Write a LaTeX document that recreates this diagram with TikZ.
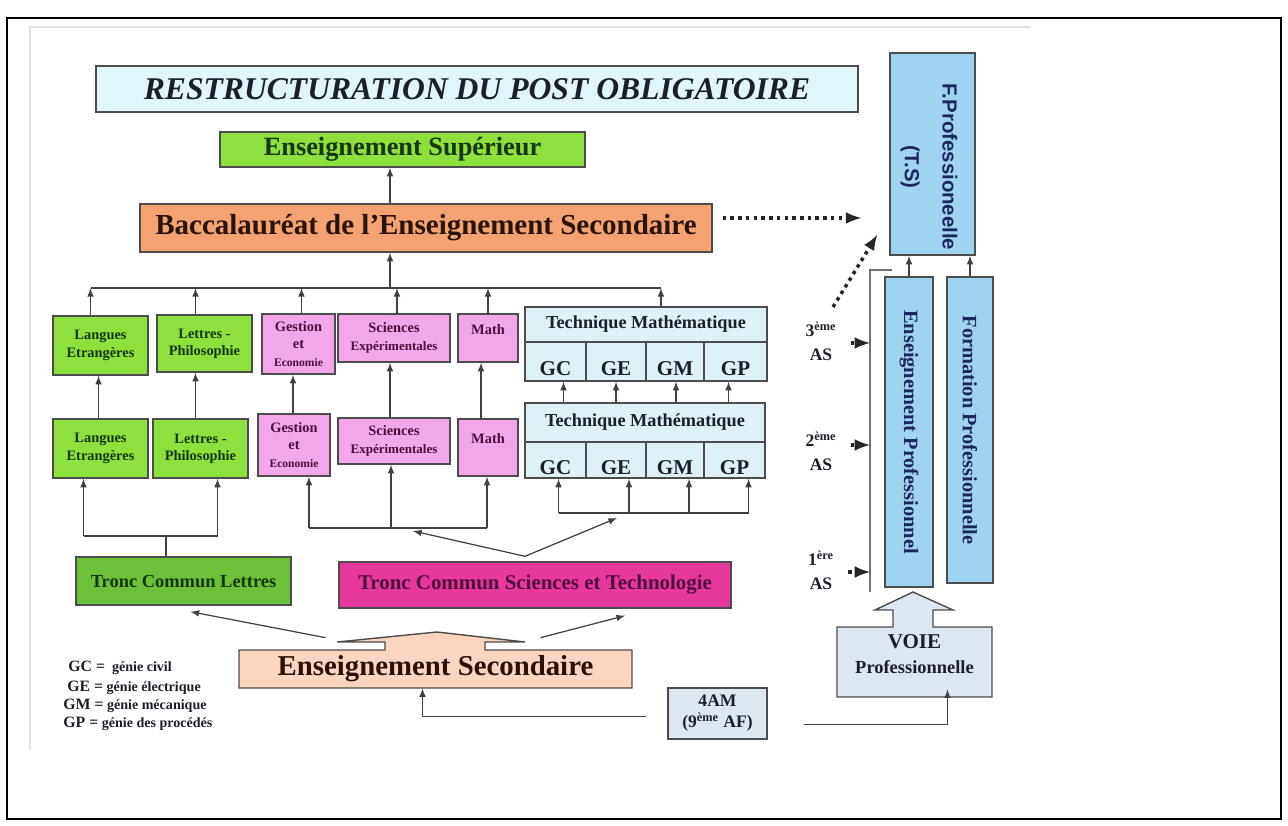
\documentclass[tikz,border=0pt]{standalone}
\usepackage{fontspec}
\setmainfont{Liberation Serif}
\newfontfamily\arialfont{Liberation Sans}
\usepackage{xcolor}
\usetikzlibrary{arrows,positioning,calc}

\definecolor{cyantitre}{HTML}{E0F6FA}
\definecolor{cyantech}{HTML}{DDF1F7}
\definecolor{vert}{HTML}{8EE03C}
\definecolor{vertfonce}{HTML}{6BC13A}
\definecolor{orangebac}{HTML}{F4A272}
\definecolor{rose}{HTML}{F2A7E8}
\definecolor{magentatc}{HTML}{E6399B}
\definecolor{peche}{HTML}{FBD5C0}
\definecolor{gris}{HTML}{DCE7F1}
\definecolor{bleu}{HTML}{9FD4F1}
\definecolor{encre}{HTML}{1C1E2A}
\definecolor{encrevert}{HTML}{17350F}
\definecolor{encrebrun}{HTML}{2B1206}
\definecolor{encreviolet}{HTML}{4E0E3A}
\definecolor{encrebleu}{HTML}{1B2660}

\newcommand{\fs}[1]{\fontsize{#1}{\fpeval{1.2*#1}}\selectfont}
\newcommand{\cel}[1]{\raisebox{-4pt}[\height][0pt]{#1}}

\tikzset{taille/.style 2 args={minimum width=#1*0.02cm, minimum height=#2*0.02cm}}
\tikzstyle{boite}=[draw=black!70, line width=0.8pt, inner sep=0pt, align=center, font=\bfseries]
\tikzstyle{contour}=[draw=black!70, line width=0.8pt]
\tikzstyle{vertbox}=[boite, fill=vert, text=encrevert, font=\bfseries\fs{8.2}]
\tikzstyle{rosebox}=[boite, fill=rose, text=encreviolet, font=\bfseries\fs{8.2}]
\tikzstyle{techbox}=[boite, fill=cyantech, text=encre, font=\bfseries\fs{10.4}]
\tikzstyle{cellbox}=[boite, fill=cyantech, text=encre, font=\bfseries\fs{12}]
\tikzstyle{bleubox}=[boite, fill=bleu]
\tikzstyle{texteverticale}=[rotate=-90, align=center, inner sep=0pt, text=encrebleu, font=\bfseries\fs{11.6}]
\tikzstyle{niveau}=[align=center, inner sep=1pt, text=encre, font=\bfseries\fs{10}]
\tikzstyle{legende}=[anchor=west, inner sep=0pt, text=encre, font=\bfseries\fs{8}]
\tikzstyle{lien}=[draw=black!75, line width=0.7pt]
\tikzstyle{fleche}=[lien, -latex]
\tikzstyle{pointille}=[draw=black!85, line width=2pt, dash pattern=on 2pt off 2.4pt, -latex]

\begin{document}
\begin{tikzpicture}[x=0.02cm, y=-0.02cm]
\useasboundingbox (0,0) rectangle (1288,825);

% cadre
\draw[line width=1.3pt] (7,18) rectangle (1281,819);
\draw[black!12, line width=0.8pt] (30,750) -- (30,27) -- (1030,27);

% titre, superieur, bac
\node[boite, taille={762}{46}, fill=cyantitre, text=encre, font=\bfseries\itshape\fs{18}] (titre) at (477,89) {RESTRUCTURATION DU POST OBLIGATOIRE};
\node[boite, taille={365}{35}, fill=vert, text=encrevert, font=\bfseries\fs{15}] (sup) at (402.5,149.5) {Enseignement Supérieur};
\node[boite, taille={572}{48}, fill=orangebac, text=encrebrun, font=\bfseries\fs{16.5}] (bac) at (426,228) {Baccalauréat de l’Enseignement Secondaire};

% filieres, 2eme annee
\node[vertbox, taille={95}{59}] (lang1) at (100.5,345.5) {Langues\\Etrangères};
\node[vertbox, taille={95}{57}] (lett1) at (204.5,343.5) {Lettres -\\Philosophie};
\node[rosebox, taille={73}{60}] (gest1) at (298.5,344) {Gestion\\et\\{\fs{6.6}Economie}};
\node[rosebox, taille={112}{48}] (sci1) at (394,338) {Sciences\\{\fs{7.4}Expérimentales}};
\node[rosebox, taille={60}{48}] (math1) at (488,338) {Math\\~};
\node[techbox, taille={242}{35}] (tm1) at (646,324.5) {Technique Mathématique};
\foreach \nom/\x/\l in {GC/555.5/61, GE/616/60, GM/675/58, GP/735.5/63}
  \node[cellbox, taille={\l}{39}] (\nom1) at (\x,361.5) {\cel{\nom}};

% filieres, 1ere annee
\node[vertbox, taille={95}{59}] (lang2) at (100.5,448.5) {Langues\\Etrangères};
\node[vertbox, taille={95}{59}] (lett2) at (200.5,448.5) {Lettres -\\Philosophie};
\node[rosebox, taille={72}{62}] (gest2) at (294,445) {Gestion\\et\\{\fs{6.6}Economie}};
\node[rosebox, taille={112}{46}] (sci2) at (394,441) {Sciences\\{\fs{7.4}Expérimentales}};
\node[rosebox, taille={60}{57}] (math2) at (488,447.5) {Math\\~};
\node[techbox, taille={240}{39}] (tm2) at (645,422.5) {Technique Mathématique};
\foreach \nom/\x/\l in {GC/555.5/61, GE/616/60, GM/675/58, GP/734.5/61}
  \node[cellbox, taille={\l}{36}] (\nom2) at (\x,460) {\cel{\nom}};

% troncs communs
\node[boite, taille={215}{48}, fill=vertfonce, text=encrevert, font=\bfseries\fs{10.5}] (tcl) at (183.5,581) {Tronc Commun Lettres};
\node[boite, taille={392}{46}, fill=magentatc, text=encreviolet, font=\bfseries\fs{11.9}] (tcst) at (535,585) {Tronc Commun Sciences et Technologie};

% enseignement secondaire
\filldraw[contour, fill=peche] (239,650) -- (385,650) -- (385,642) -- (337,642) -- (437,632) -- (525,642) -- (485,642) -- (485,650) -- (632,650) -- (632,688) -- (239,688) -- cycle;
\node[taille={393}{38}, inner sep=0pt, text=encrebrun, font=\bfseries\fs{16.4}] (sec) at (435.5,669) {Enseignement Secondaire};

% legende
\node[legende] (leg-gc) at (68,668) {{\fs{9}GC =}~~génie civil};
\node[legende] (leg-ge) at (67,688) {{\fs{9}GE =} génie électrique};
\node[legende] (leg-gm) at (63,706) {{\fs{9}GM =} génie mécanique};
\node[legende] (leg-gp) at (63,724) {{\fs{9}GP =} génie des procédés};

% 4AM et voie professionnelle
\node[boite, taille={99}{51}, fill=gris, text=encre, font=\bfseries\fs{10}] (am) at (717.5,713.5) {4AM\\(9\textsuperscript{ème} AF)};
\filldraw[contour, fill=gris] (837,627) -- (893,627) -- (893,610) -- (875,610) -- (913,592) -- (953,610) -- (933,610) -- (933,627) -- (992,627) -- (992,697) -- (837,697) -- cycle;
\node[taille={155}{70}, inner sep=0pt, align=center, text=encre, font=\bfseries\fs{12}] (voie) at (914.5,654) {VOIE\\{\fs{10.5}Professionnelle}};

% colonne professionnelle
\node[bleubox, taille={85}{202}] (fprof) at (932.5,154) {};
\node[texteverticale, font=\arialfont\bfseries\fs{11.6}] (fprof-texte) at (929,167) {F.Professioneelle\\[7.5pt](T.S)};
\node[bleubox, taille={48}{310}] (ep) at (909,432) {};
\node[texteverticale] (ep-texte) at (ep.center) {Enseignement Professionnel};
\node[bleubox, taille={46}{306}] (fp) at (970,430) {};
\node[texteverticale] (fp-texte) at (fp.center) {Formation Professionnelle};

\node[niveau] (niv3) at (821,341) {3\textsuperscript{ème}\\[1.5pt]AS};
\node[niveau] (niv2) at (821,451) {2\textsuperscript{ème}\\[1.5pt]AS};
\node[niveau] (niv1) at (821,570) {1\textsuperscript{ère}\\[1.5pt]AS};

% liaisons vers le bac
\coordinate (axe) at (390,288);
\draw[fleche] (bac.north -| axe) -- (sup.south -| axe);
\draw[fleche] (axe) -- (bac.south -| axe);
\foreach \nom/\dx in {lang1/-10, lett1/-9, gest1/3, sci1/3, math1/0, tm1/15}
  \draw[fleche] ($(\nom.north)+(\dx,0)$) coordinate (c-\nom) -- (c-\nom |- axe);
\draw[lien] (c-lang1 |- axe) -- (c-tm1 |- axe);

% 1ere -> 2eme annee
\foreach \haut/\bas/\dx in {lang1/lang2/-2, lett1/lett2/-5, gest1/gest2/-1, sci1/sci2/-4, math1/math2/-7}
  \draw[fleche] ($(\bas.north)+(\dx,0)$) coordinate (p) -- (p |- \haut.south);
\foreach \nom/\dx in {GC/8, GE/0, GM/1, GP/-7} {
  \path ($(\nom1.south)+(\dx,0)$) coordinate (q);
  \draw[fleche] (q |- tm2.north) -- (q);
}

% troncs communs -> filieres
\coordinate (fl) at (166,536);
\coordinate (fsci) at (413,528);
\coordinate (ftech) at (617,513);
\foreach \nom/\dx/\fourche in {lang2/-17/fl, lett2/17/fl, gest2/15/fsci, sci2/-3/fsci, math2/-1/fsci, GC2/3/ftech, GE2/13/ftech, GM2/14/ftech, GP2/14/ftech} {
  \path ($(\nom.south)+(\dx,0)$) coordinate (b-\nom);
  \draw[fleche] (b-\nom |- \fourche) -- (b-\nom);
}
\draw[lien] (b-lang2 |- fl) -- (b-lett2 |- fl);
\draw[lien] (fl) -- (fl |- tcl.north);
\draw[lien] (b-gest2 |- fsci) -- (b-math2 |- fsci);
\draw[lien] (b-GC2 |- ftech) -- (b-GP2 |- ftech);
\draw[fleche] ($(tcst.north)+(-10,-5)$) -- ($(fsci)+(0,3)$);
\draw[fleche] ($(tcst.north)+(-10,-5)$) -- ($(ftech)+(0,5)$);

% secondaire -> troncs communs
\draw[fleche] ($(sec.north)+(-110,-12)$) -- ($(tcl.south)+(7,6)$);
\draw[fleche] ($(sec.north)+(105,-12)$) -- ($(tcst.south)+(90,7)$);

% 4AM
\draw[fleche] ($(am.west)+(-21,3)$) -| ($(sec.south)+(-13,0)$);
\draw[fleche] ($(am.east)+(36,11)$) -| ($(voie.south)+(33,0)$);

% voie professionnelle
\coordinate (crochet) at (870,270);
\draw[black!55, line width=0.8pt] ($(crochet)+(22,0)$) -- (crochet) -- ($(crochet)+(0,322)$);
\draw[fleche] (ep.north) -- (ep.north |- fprof.south);
\draw[fleche] (fp.north) -- (fp.north |- fprof.south);
\draw[pointille] ($(niv3.east)+(12,2)$) coordinate (r) -- (r -| crochet);
\draw[pointille] ($(niv2.east)+(12,-6)$) coordinate (r) -- (r -| crochet);
\draw[pointille] ($(niv1.east)+(12,2)$) coordinate (r) -- (r -| crochet);

% passerelles
\coordinate (diag) at (833,307);
\draw[pointille] ($(bac.east)+(10,-10)$) -- ($(fprof.west |- bac.east)+(-28,-10)$);
\draw[pointille] (diag) -- ($(fprof.south west)+(-12,-21)$);

\end{tikzpicture}
\end{document}
